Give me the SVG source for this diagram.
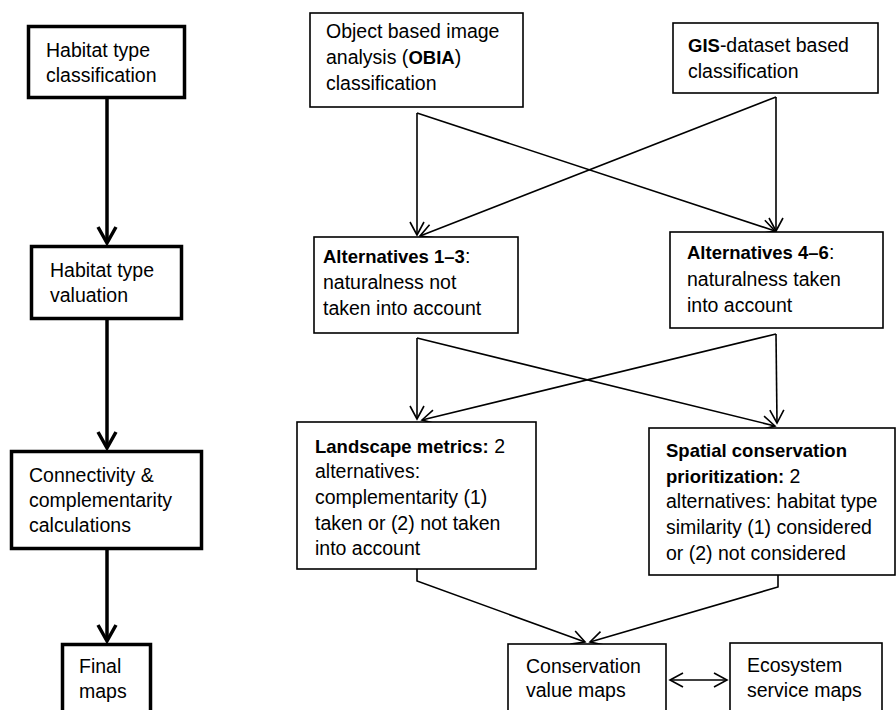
<svg xmlns="http://www.w3.org/2000/svg" width="896" height="710" viewBox="0 0 896 710">
<style>
  text { font-family: "Liberation Sans", Arial, sans-serif; font-size: 19.5px; fill: #000; }
  .b { font-weight: bold; font-size: 18.5px; }
  .thick { fill: #fff; stroke: #000; stroke-width: 3.5; }
  .thin { fill: #fff; stroke: #000; stroke-width: 1.6; }
  .cT { fill: none; stroke: #000; stroke-width: 3.5; }
  .cS { fill: none; stroke: #000; stroke-width: 1.6; stroke-linejoin: miter; }
</style>
<defs>
  <marker id="ahT" markerUnits="userSpaceOnUse" viewBox="-18 -12 22 24" refX="0" refY="0" markerWidth="22" markerHeight="24" orient="auto" overflow="visible">
    <path d="M-15,-9 L1,0 L-15,9" fill="none" stroke="#000" stroke-width="3.5" stroke-linejoin="miter"/>
  </marker>
  <marker id="ahS" markerUnits="userSpaceOnUse" viewBox="-16 -10 18 20" refX="0" refY="0" markerWidth="18" markerHeight="20" orient="auto" overflow="visible">
    <path d="M-13,-7 L0,0 L-13,7" fill="none" stroke="#000" stroke-width="1.6"/>
  </marker>
  <marker id="ahSs" markerUnits="userSpaceOnUse" viewBox="-16 -10 18 20" refX="0" refY="0" markerWidth="18" markerHeight="20" orient="auto-start-reverse" overflow="visible">
    <path d="M-13,-7 L0,0 L-13,7" fill="none" stroke="#000" stroke-width="1.6"/>
  </marker>
</defs>
<rect width="896" height="710" fill="#fff"/>

<g id="connectors">
  <path class="cT" d="M107,99 L107,242" marker-end="url(#ahT)"/>
  <path class="cT" d="M107,320 L107,447" marker-end="url(#ahT)"/>
  <path class="cT" d="M107,550 L107,640" marker-end="url(#ahT)"/>

  <path class="cS" d="M417,113 L417,235" marker-end="url(#ahS)"/>
  <path class="cS" d="M417,113 L775,231" marker-end="url(#ahS)"/>
  <path class="cS" d="M776,97 L776,231" marker-end="url(#ahS)"/>
  <path class="cS" d="M776,97 L420,236" marker-end="url(#ahS)"/>

  <path class="cS" d="M417,338 L417,419" marker-end="url(#ahS)"/>
  <path class="cS" d="M417,338 L775,426" marker-end="url(#ahS)"/>
  <path class="cS" d="M776,334 L777,423" marker-end="url(#ahS)"/>
  <path class="cS" d="M776,334 L422,420" marker-end="url(#ahS)"/>

  <path class="cS" d="M417,569 L417,581 L585,642" marker-end="url(#ahS)"/>
  <path class="cS" d="M778,575 L778,587 L590,642" marker-end="url(#ahS)"/>
  <path class="cS" d="M670,680 L727,680" marker-start="url(#ahSs)" marker-end="url(#ahS)"/>
</g>

<g id="habitat-classification">
  <rect class="thick" x="28.5" y="26.5" width="156" height="71"/>
  <text x="46" y="57">Habitat type</text>
  <text x="46" y="82">classification</text>
</g>
<g id="habitat-valuation">
  <rect class="thick" x="31.5" y="246.5" width="150" height="72"/>
  <text x="50" y="277">Habitat type</text>
  <text x="50" y="302">valuation</text>
</g>
<g id="connectivity">
  <rect class="thick" x="11.5" y="451.5" width="190" height="97"/>
  <text x="29" y="482">Connectivity &amp;</text>
  <text x="29" y="507">complementarity</text>
  <text x="29" y="532">calculations</text>
</g>
<g id="final-maps">
  <rect class="thick" x="62.5" y="644.5" width="88" height="75"/>
  <text x="79" y="673">Final</text>
  <text x="79" y="698">maps</text>
</g>

<g id="obia">
  <rect class="thin" x="310" y="13" width="213" height="94"/>
  <text x="326" y="38">Object based image</text>
  <text x="326" y="64">analysis (<tspan class="b">OBIA</tspan>)</text>
  <text x="326" y="90">classification</text>
</g>
<g id="gis">
  <rect class="thin" x="673" y="23" width="205" height="70"/>
  <text x="688" y="52"><tspan class="b">GIS</tspan>-dataset based</text>
  <text x="688" y="78">classification</text>
</g>
<g id="alt13">
  <rect class="thin" x="314" y="237" width="204" height="96"/>
  <text x="323" y="263"><tspan class="b">Alternatives 1–3</tspan>:</text>
  <text x="323" y="289">naturalness not</text>
  <text x="323" y="315">taken into account</text>
</g>
<g id="alt46">
  <rect class="thin" x="670" y="232" width="213" height="96"/>
  <text x="687" y="259"><tspan class="b">Alternatives 4–6</tspan>:</text>
  <text x="687" y="286">naturalness taken</text>
  <text x="687" y="312">into account</text>
</g>
<g id="landscape">
  <rect class="thin" x="297" y="422" width="239" height="147"/>
  <text x="315" y="453"><tspan class="b">Landscape metrics:</tspan> 2</text>
  <text x="315" y="478">alternatives:</text>
  <text x="315" y="504">complementarity (1)</text>
  <text x="315" y="530">taken or (2) not taken</text>
  <text x="315" y="555">into account</text>
</g>
<g id="spatial">
  <rect class="thin" x="649" y="428" width="246" height="147"/>
  <text x="666" y="457" class="b">Spatial conservation</text>
  <text x="666" y="483"><tspan class="b">prioritization:</tspan> 2</text>
  <text x="666" y="508">alternatives: habitat type</text>
  <text x="666" y="534">similarity (1) considered</text>
  <text x="666" y="560">or (2) not considered</text>
</g>
<g id="conservation">
  <rect class="thin" x="508" y="644" width="158" height="75"/>
  <text x="526" y="673">Conservation</text>
  <text x="526" y="697">value maps</text>
</g>
<g id="ecosystem">
  <rect class="thin" x="730" y="643" width="152" height="76"/>
  <text x="747" y="672">Ecosystem</text>
  <text x="747" y="697">service maps</text>
</g>
</svg>
